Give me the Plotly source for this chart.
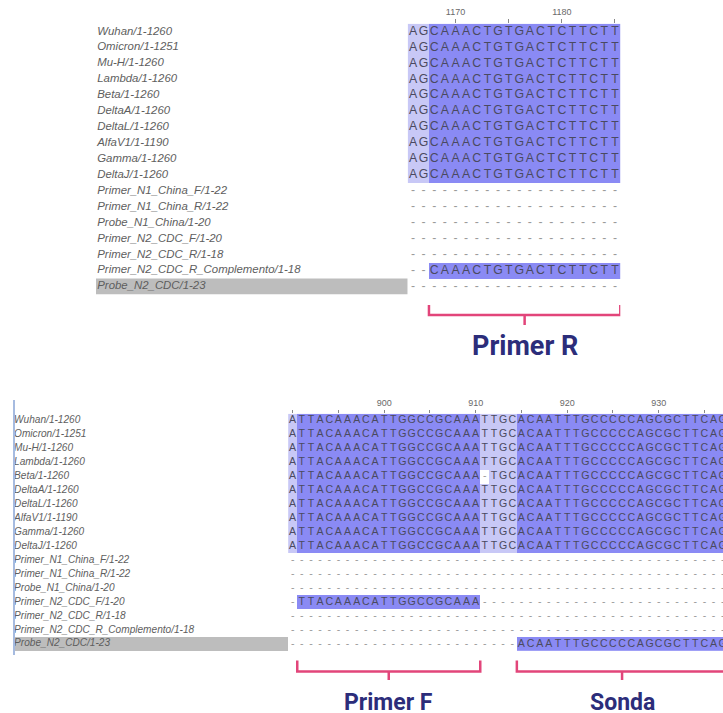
import numpy as np
import plotly.graph_objects as go

# ---------------- data ----------------
names = ["Wuhan/1-1260", "Omicron/1-1251", "Mu-H/1-1260", "Lambda/1-1260", "Beta/1-1260",
         "DeltaA/1-1260", "DeltaL/1-1260", "AlfaV1/1-1190", "Gamma/1-1260", "DeltaJ/1-1260",
         "Primer_N1_China_F/1-22", "Primer_N1_China_R/1-22", "Probe_N1_China/1-20",
         "Primer_N2_CDC_F/1-20", "Primer_N2_CDC_R/1-18", "Primer_N2_CDC_R_Complemento/1-18",
         "Probe_N2_CDC/1-23"]
selected_name = "Probe_N2_CDC/1-23"

top_start = 1166
top_seqs = [
    "AGCAAACTGTGACTCTTCTT",
    "AGCAAACTGTGACTCTTCTT",
    "AGCAAACTGTGACTCTTCTT",
    "AGCAAACTGTGACTCTTCTT",
    "AGCAAACTGTGACTCTTCTT",
    "AGCAAACTGTGACTCTTCTT",
    "AGCAAACTGTGACTCTTCTT",
    "AGCAAACTGTGACTCTTCTT",
    "AGCAAACTGTGACTCTTCTT",
    "AGCAAACTGTGACTCTTCTT",
    "--------------------",
    "--------------------",
    "--------------------",
    "--------------------",
    "--------------------",
    "--CAAACTGTGACTCTTCTT",
    "--------------------",
]
top_tick_labels = [1170, 1180]
top_minor_ticks = [1175, 1185]

bottom_start = 890
bottom_seqs = [
    "ATTACAAACATTGGCCGCAAATTGCACAATTTGCCCCCAGCGCTTCAG",
    "ATTACAAACATTGGCCGCAAATTGCACAATTTGCCCCCAGCGCTTCAG",
    "ATTACAAACATTGGCCGCAAATTGCACAATTTGCCCCCAGCGCTTCAG",
    "ATTACAAACATTGGCCGCAAATTGCACAATTTGCCCCCAGCGCTTCAG",
    "ATTACAAACATTGGCCGCAAA-TGCACAATTTGCCCCCAGCGCTTCAG",
    "ATTACAAACATTGGCCGCAAATTGCACAATTTGCCCCCAGCGCTTCAG",
    "ATTACAAACATTGGCCGCAAATTGCACAATTTGCCCCCAGCGCTTCAG",
    "ATTACAAACATTGGCCGCAAATTGCACAATTTGCCCCCAGCGCTTCAG",
    "ATTACAAACATTGGCCGCAAATTGCACAATTTGCCCCCAGCGCTTCAG",
    "ATTACAAACATTGGCCGCAAATTGCACAATTTGCCCCCAGCGCTTCAG",
    "------------------------------------------------",
    "------------------------------------------------",
    "------------------------------------------------",
    "-TTACAAACATTGGCCGCAAA---------------------------",
    "------------------------------------------------",
    "------------------------------------------------",
    "-------------------------ACAATTTGCCCCCAGCGCTTCAG",
]
bottom_tick_labels = [900, 910, 920, 930]
bottom_minor_ticks = [890, 895, 905, 915, 925, 935]

# bracket annotations: (label, first position, last position)
top_brackets = [("Primer R", 1168, 1185)]
bottom_brackets = [("Primer F", 891, 910), ("Sonda", 915, 937)]

# ---------------- styles ----------------
W, H = 723, 713
MED = "#8a8af4"
LIGHT = "#c8c8f6"
LETTER = "#4a4a60"
GAPC = "#9a9a9a"
NAMEC = "#5e5e5e"
SELC = "#bdbdbd"
PINK = "#e2457a"
NAVY = "#2c2d7a"


def px(x):
    return x / W


def py(y):
    return 1 - y / H


def pid_classes(seqs):
    n = len(seqs)
    L = len(seqs[0])
    z = np.zeros((n, L))
    for j in range(L):
        col = [s[j] for s in seqs]
        res = [c for c in col if c != "-"]
        cons = max(sorted(set(res)), key=res.count)
        frac = res.count(cons) / n
        cls = 2 if frac > 0.6 else (1 if frac > 0.4 else 0)
        for i, c in enumerate(col):
            if c == cons:
                z[i, j] = cls
    return z


fig = go.Figure()


def add_panel(seqs, start, xa, ya, xn, fsize, nsize):
    n = len(seqs)
    L = len(seqs[0])
    pos = np.arange(start, start + L)
    z = pid_classes(seqs)
    fig.add_trace(go.Heatmap(
        z=z, x=pos, y=list(range(n)), zmin=0, zmax=2,
        colorscale=[[0, "#ffffff"], [0.5, LIGHT], [1, MED]],
        showscale=False, hoverinfo="skip", xaxis=xa, yaxis=ya))
    xs, ys, ts, cs = [], [], [], []
    for i, s in enumerate(seqs):
        for j, c in enumerate(s):
            xs.append(pos[j]); ys.append(i); ts.append(c)
            cs.append(GAPC if c == "-" else LETTER)
    fig.add_trace(go.Scatter(
        x=xs, y=ys, text=ts, mode="text", textposition="middle center",
        textfont=dict(family="Liberation Sans, Arial", size=fsize, color=cs),
        hoverinfo="skip", showlegend=False, xaxis=xa, yaxis=ya))
    fig.add_trace(go.Scatter(
        x=[0.004] * n, y=list(range(n)), text=names, mode="text",
        textposition="middle right",
        textfont=dict(family="Liberation Sans, Arial", size=nsize, color=NAMEC, style="italic"),
        hoverinfo="skip", showlegend=False, xaxis=xn, yaxis=ya, cliponaxis=False))
    si = names.index(selected_name)
    fig.add_shape(type="rect", xref=xn, yref=ya, x0=0, x1=1, y0=si - 0.5, y1=si + 0.5,
                  fillcolor=SELC, line_width=0, layer="below")


add_panel(top_seqs, top_start, "x", "y", "x3", 12.3, 11.4)
add_panel(bottom_seqs, bottom_start, "x2", "y2", "x4", 10.6, 10.1)

# geometry
top_col = 10.63
top_left = 407.7
top_row0, top_rowh = 23.7, 15.93
bot_col = 9.15
bot_left = 288.1
bot_row0, bot_rowh = 413.8, 13.95
nT = len(top_seqs[0])
nR = len(names)

tickfont = dict(family="Liberation Sans, Arial", size=9, color="#6a6a6a")
fig.update_layout(
    width=W, height=H, margin=dict(l=0, r=0, t=0, b=0), autosize=False,
    paper_bgcolor="white", plot_bgcolor="white", showlegend=False,
    xaxis=dict(domain=[px(top_left), px(top_left + nT * top_col)],
               range=[top_start - 0.5, top_start + nT - 0.5], side="top", anchor="y",
               tickmode="array", tickvals=top_tick_labels, ticks="outside", ticklen=4,
               tickcolor="#888", tickwidth=1, tickfont=tickfont, showgrid=False, zeroline=False,
               showline=False,
               minor=dict(tickmode="array", tickvals=top_minor_ticks, ticks="outside", ticklen=4,
                          tickcolor="#888", showgrid=False)),
    yaxis=dict(domain=[py(top_row0 + nR * top_rowh), py(top_row0)], range=[nR - 0.5, -0.5],
               visible=False, anchor="x"),
    xaxis2=dict(domain=[px(bot_left), 1], range=[bottom_start - 0.5, bottom_start - 0.5 + (W - bot_left) / bot_col],
                side="top", anchor="y2", tickmode="array", tickvals=bottom_tick_labels,
                ticks="outside", ticklen=3, tickcolor="#888", tickwidth=1, tickfont=tickfont,
                showgrid=False, zeroline=False, showline=False,
                minor=dict(tickmode="array", tickvals=bottom_minor_ticks, ticks="outside", ticklen=3,
                           tickcolor="#888", showgrid=False)),
    yaxis2=dict(domain=[py(bot_row0 + nR * bot_rowh), py(bot_row0)], range=[nR - 0.5, -0.5],
                visible=False, anchor="x2"),
    xaxis3=dict(domain=[px(96), px(top_left)], range=[0, 1], visible=False, anchor="y"),
    xaxis4=dict(domain=[px(13), px(bot_left)], range=[0, 1], visible=False, anchor="y2"),
)

# left border line of the lower panel
fig.add_shape(type="line", xref="paper", yref="paper", x0=px(14), x1=px(14), y0=py(400), y1=py(655),
              line=dict(color="#a6bbe0", width=2))


def add_brackets(brs, xa, ytop, ybar, ytick, ylab, size):
    for lab, a, b in brs:
        x0, x1 = a - 0.5, b + 0.5
        xm = (x0 + x1) / 2
        path = (f"M {x0},{py(ytop)} L {x0},{py(ybar)} L {x1},{py(ybar)} L {x1},{py(ytop)} "
                f"M {xm},{py(ybar)} L {xm},{py(ytick)}")
        fig.add_shape(type="path", xref=xa, yref="paper", path=path,
                      line=dict(color=PINK, width=2.5))
        fig.add_annotation(x=xm, y=py(ylab), xref=xa, yref="paper", text=f"<b>{lab}</b>",
                           showarrow=False, xanchor="center", yanchor="middle",
                           font=dict(family="Roboto", size=size, color=NAVY))


add_brackets(top_brackets, "x", 305, 315, 325, 346, 27)
add_brackets(bottom_brackets, "x2", 660.5, 671.5, 680, 702, 23)

fig.write_html("out.html", config={"displayModeBar": False},
               post_script="document.body.style.margin='0';document.body.style.overflow='hidden';")
